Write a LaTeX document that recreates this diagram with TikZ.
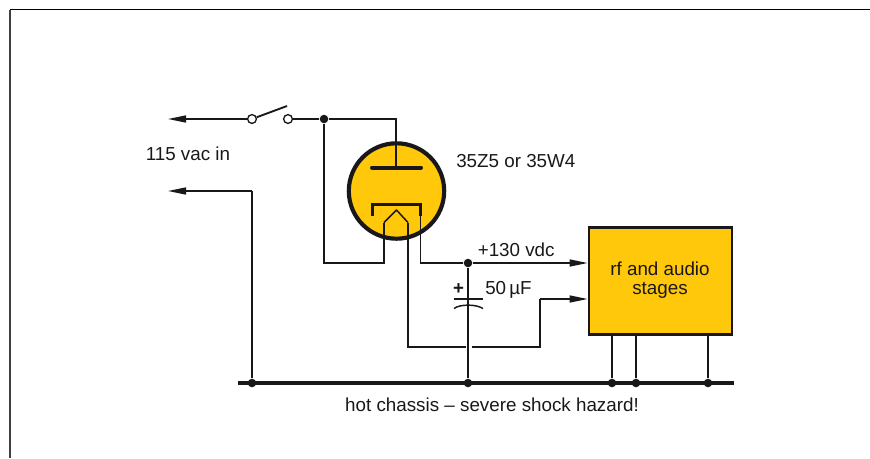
\documentclass[tikz,border=0pt]{standalone}
\usepackage{fontspec}
\setmainfont{Liberation Sans}
\usetikzlibrary{arrows.meta}
\definecolor{tubeyellow}{RGB}{255,200,10}
\definecolor{inkk}{RGB}{26,23,27}
\pgfdeclarelayer{fills}
\pgfdeclarelayer{wires}
\pgfsetlayers{fills,wires,main}
\tikzset{
  wire/.style={draw=inkk,line width=1.1pt},
  arrowwire/.style={wire,-{Triangle[length=13.5pt,width=5.25pt]}},
  heavy/.style={draw=inkk,line width=3pt},
  dot/.style={circle,fill=inkk,inner sep=0pt,minimum size=6.4pt},
  term/.style={circle,draw=inkk,fill=white,line width=1pt,inner sep=0pt,minimum size=6.6pt},
  lbl/.style={text=inkk,inner sep=0pt,font=\fontsize{14.1pt}{16pt}\selectfont},
  gapfill/.style={draw=white,line width=4pt},
}
\begin{document}
\begin{tikzpicture}[x=0.75pt,y=-0.75pt]
\useasboundingbox (0,0) rectangle (870,458);
% junction points
\coordinate (arrowA) at (168,119);
\coordinate (arrowB) at (168,191);
\coordinate (busL) at (238,383);
\coordinate (busR) at (734,383);
\coordinate (swTip) at (287,106);
% switch terminals and junction dots (top layer)
\node[term] (swA) at (252,119) {};
\node[term] (swB) at (288,119) {};
\node[dot] (jSw) at (324,119) {};
\node[dot] (jPlus) at (468,263) {};
\node[dot] (jCap) at (468,383) {};
\node[dot] (jIn) at (252,383) {};
\node[dot] (jB1) at (612,383) {};
\node[dot] (jB2) at (636,383) {};
\node[dot] (jB3) at (708,383) {};
% filled bodies
\begin{pgfonlayer}{fills}
\draw[draw=black!75,line width=1.2pt] (10,458) -- (10,9.5);
\draw[draw=black,line width=0.9pt] (10,9.5) -- (870,9.5);
\node[circle,draw=inkk,fill=tubeyellow,line width=3.1pt,minimum size=95.4*0.75pt,inner sep=0pt] (tube) at (396.5,191) {};
\node[draw=inkk,fill=tubeyellow,line width=1.9pt,minimum width=143.2*0.75pt,minimum height=107.5*0.75pt,inner sep=0pt] (box) at (660.5,281) {};
\end{pgfonlayer}
\node[lbl,anchor=base] (boxtextA) at (660,275) {rf and audio};
\node[lbl,anchor=base] (boxtextB) at (660,294) {stages};
% wiring
\begin{pgfonlayer}{wires}
\draw[wire,line width=1.4pt] (swA) -- (swTip);
\draw[arrowwire] (swA) -- (arrowA);
\draw[wire] (swB) -- (jSw) -- (396,119) -- (396,167);
\draw[arrowwire] (jIn |- arrowB) -- (arrowB);
\draw[wire] (jIn |- arrowB) -- (jIn);
% plate
\draw[heavy,line cap=round] (372,167.5) -- (421,167.5);
% cathode
\draw[draw=inkk,line width=2.3pt] (372.5,216) -- (372.5,204.5) -- (420.5,204.5) -- (420.5,216);
% heater
\draw[wire] (jSw) -- (324,263) -- (384,263) -- (384,222.5);
\draw[wire,line join=round] (384,222.5) -- (396.5,210) -- (408,222.5);
\draw[wire] (408,222.5) -- (408,347) -- (540,347) -- (540,299);
\draw[arrowwire] (540,299) -- (box.west |- 540,299);
% cathode lead
\draw[wire] (420.5,216) -- (420.5,263) -- (jPlus);
\draw[arrowwire] (jPlus) -- (box.west |- jPlus);
% capacitor
\draw[gapfill] (466,347) -- (471.5,347);
\draw[wire] (jPlus) -- (jCap);
\draw[wire] (454,299) -- (483,299);
\draw[wire] (454,308.5) .. controls (460,304) and (476,304) .. (483,308.5);
% box feet
\draw[wire] (jB1) -- (612,335);
\draw[wire] (jB2) -- (636,335);
\draw[wire] (jB3) -- (708,335);
% bus
\draw[heavy] (busL) -- (busR);
\end{pgfonlayer}
\node[text=inkk,inner sep=0pt,font=\bfseries\fontsize{14pt}{14pt}\selectfont] (plus) at (458.5,289.5) {+};
% labels
\node[lbl,anchor=base west] (lblIn) at (145.5,160.5) {115 vac in};
\node[lbl,anchor=base west] (lblTube) at (456,167) {35Z5 or 35W4};
\node[lbl,anchor=base west] (lblV) at (477.5,256) {+130 vdc};
\node[lbl,anchor=base west] (lblC) at (485,294.3) {50\,µF};
\node[lbl,anchor=base] (lblBus) at (492,411) {hot chassis – severe shock hazard!};
\end{tikzpicture}
\end{document}
